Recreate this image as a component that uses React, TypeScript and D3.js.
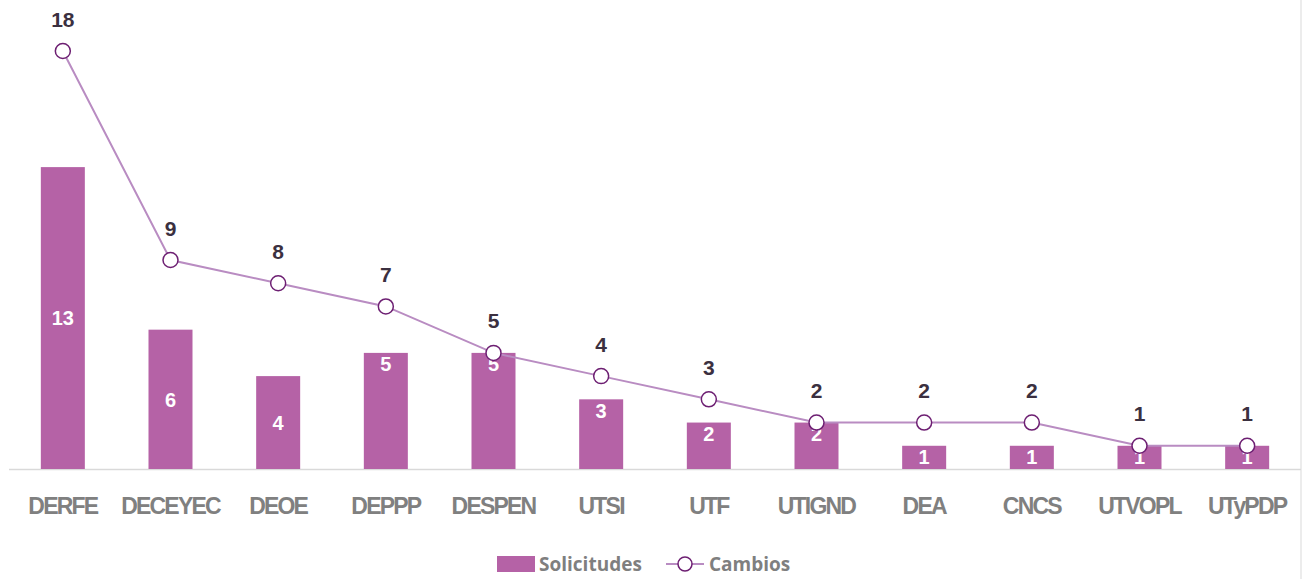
import React from "react";
import * as d3 from "d3";

const width = 1307;
const height = 579;

const categories = [
  "DERFE", "DECEYEC", "DEOE", "DEPPP", "DESPEN", "UTSI",
  "UTF", "UTIGND", "DEA", "CNCS", "UTVOPL", "UTyPDP",
];
const solicitudes = [13, 6, 4, 5, 5, 3, 2, 2, 1, 1, 1, 1];
const cambios = [18, 9, 8, 7, 5, 4, 3, 2, 2, 2, 1, 1];
// Excel put these three labels in the middle of the bar, the rest near the top
const centeredLabels = ["DERFE", "DECEYEC", "DEOE"];

const left = 9;
const right = 1301;
const baseY = 469;
const barW = 44;

const barColor = "#b562a6";
const lineColor = "#b98cc2";
const markerColor = "#6d1f72";

const x = d3.scalePoint<string>().domain(categories).range([left, right]).padding(0.5);
const y = d3.scaleLinear().domain([0, 18]).range([baseY, 51]);

const line = d3
  .line<number>()
  .x((_, i) => x(categories[i]) as number)
  .y((d) => y(d));

const App = () => {
  return (
    <svg width={width} height={height} style={{ position: "absolute", left: 0, top: 0 }}>
      <rect width={width} height={height} fill="white" />
      <line x1={right} x2={right} y1={0} y2={height} stroke="#d9d9d9" strokeWidth={1} />
      <line x1={left} x2={right} y1={baseY + 0.5} y2={baseY + 0.5} stroke="#d9d9d9" strokeWidth={1.5} />

      {solicitudes.map((v, i) => {
        const cx = x(categories[i]) as number;
        const top = y(v);
        const labelY = centeredLabels.includes(categories[i]) ? (top + baseY) / 2 : top + 11;
        return (
          <g key={categories[i]}>
            <rect x={cx - barW / 2} y={top} width={barW} height={baseY - top} fill={barColor} />
            <text
              x={cx}
              y={labelY}
              dy="0.36em"
              textAnchor="middle"
              fill="white"
              fontFamily="Liberation Sans, Arial, sans-serif"
              fontWeight="bold"
              fontSize={20}
            >
              {v}
            </text>
          </g>
        );
      })}

      <path d={line(cambios) as string} fill="none" stroke={lineColor} strokeWidth={2} />
      {cambios.map((v, i) => {
        const cx = x(categories[i]) as number;
        return (
          <g key={"c" + i}>
            <circle cx={cx} cy={y(v)} r={7.5} fill="white" stroke={markerColor} strokeWidth={1.5} />
            <text
              x={cx}
              y={y(v) - 32}
              dy="0.36em"
              textAnchor="middle"
              fill="#3b3040"
              fontFamily="Liberation Sans, Arial, sans-serif"
              fontWeight="bold"
              fontSize={21}
            >
              {v}
            </text>
          </g>
        );
      })}

      {categories.map((c) => (
        <text
          key={"l" + c}
          x={x(c) as number}
          y={506}
          dy="0.36em"
          textAnchor="middle"
          fill="#808080"
          fontFamily="Liberation Sans Narrow, Liberation Sans, Arial, sans-serif"
          fontWeight="bold"
          fontSize={23}
          letterSpacing={-1.8}
        >
          {c}
        </text>
      ))}

      <g fontFamily="Open Sans, Noto Sans, sans-serif" fontWeight="bold" fontSize={19} fill="#7f7f7f">
        <rect x={497} y={556} width={38} height={16} fill={barColor} />
        <text x={539} y={564} dy="0.36em">Solicitudes</text>
        <line x1={666} x2={704} y1={564} y2={564} stroke={lineColor} strokeWidth={2} />
        <circle cx={685} cy={564} r={7} fill="white" stroke={markerColor} strokeWidth={1.5} />
        <text x={709} y={564} dy="0.36em">Cambios</text>
      </g>
    </svg>
  );
};

export default App;
